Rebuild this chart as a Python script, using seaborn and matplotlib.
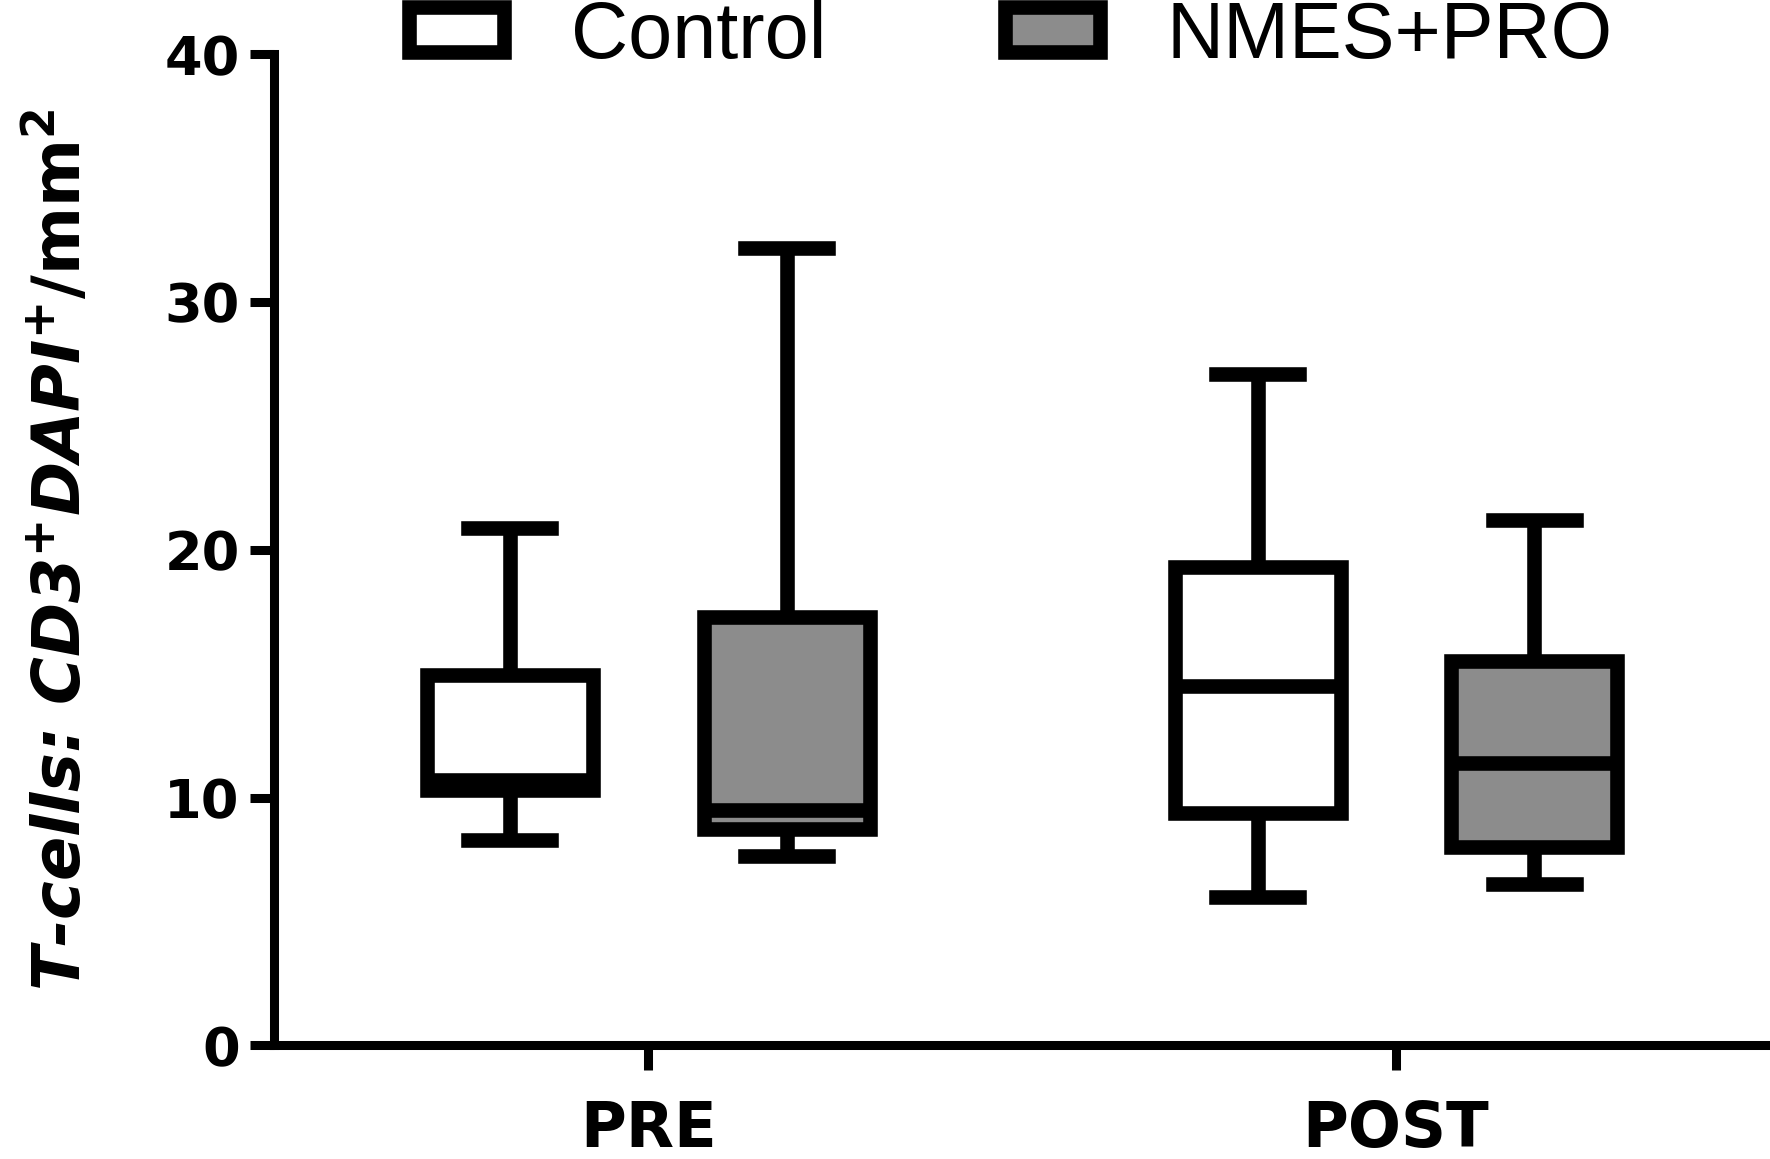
import numpy as np
import pandas as pd
import matplotlib
matplotlib.use("Agg")
import matplotlib.pyplot as plt
import seaborn as sns
from matplotlib.patches import Patch

# data: min, Q1, median, Q3, max (whiskers = min..max)
times = ["PRE", "POST"]
groups = ["Control", "NMES+PRO"]
control_pre = [8.3, 10.3, 10.7, 14.95, 20.9]
nmes_pre = [7.65, 8.75, 9.5, 17.3, 32.2]
control_post = [6.0, 9.4, 14.5, 19.3, 27.1]
nmes_post = [6.5, 8.0, 11.4, 15.5, 21.2]
colors = {"Control": "white", "NMES+PRO": "#8c8c8c"}
y_ticks = [0, 10, 20, 30, 40]

rows = []
for t, g, vals in [("PRE", "Control", control_pre), ("PRE", "NMES+PRO", nmes_pre),
                   ("POST", "Control", control_post), ("POST", "NMES+PRO", nmes_post)]:
    for v in vals:
        rows.append({"time": t, "group": g, "value": v})
df = pd.DataFrame(rows)

sns.set_style("ticks", {"axes.edgecolor": "black", "text.color": "black",
                        "xtick.color": "black", "ytick.color": "black",
                        "axes.labelcolor": "black"})
plt.rcParams["font.family"] = ["Liberation Sans", "DejaVu Sans"]
plt.rcParams["mathtext.fontset"] = "custom"
plt.rcParams["mathtext.rm"] = "DejaVu Sans:bold"
plt.rcParams["mathtext.it"] = "DejaVu Sans:italic:bold"
plt.rcParams["mathtext.bf"] = "DejaVu Sans:bold"

fig = plt.figure(figsize=(17.7, 11.59), dpi=100)
ax = fig.add_axes([0.155, 0.098, 0.845, 0.855])

sns.boxplot(data=df, x="time", y="value", hue="group", order=times, hue_order=groups,
            palette=colors, saturation=1, width=0.74, gap=0.4, whis=(0, 100),
            linewidth=10.5, linecolor="black", legend=False,
            capprops={"solid_capstyle": "projecting"}, ax=ax)

ax.set_ylim(0, 40)
ax.set_xlim(-0.5, 1.5)
ax.set_yticks(y_ticks)
sns.despine(ax=ax)
for s in ["left", "bottom"]:
    ax.spines[s].set_linewidth(6.5)
ax.tick_params(axis="y", length=17, width=6.5, pad=8, labelsize=39)
ax.tick_params(axis="x", length=18, width=6.5, pad=21, labelsize=45)
for lbl in ax.get_yticklabels() + ax.get_xticklabels():
    lbl.set_fontweight("bold")
    lbl.set_family("DejaVu Sans")

ax.set_xlabel("")
ax.set_ylabel("T-cells: CD3$^{+}$DAPI$^{+}$$\\mathrm{/mm}^{2}$",
              fontsize=47, fontweight="bold", fontstyle="italic", family="DejaVu Sans")
ax.yaxis.set_label_coords(-0.12, 0.5)

handles = [Patch(facecolor=colors[g], edgecolor="black", linewidth=10.5) for g in groups]
fig.legend(handles, groups, loc="center left", bbox_to_anchor=(0.231, 0.968), ncol=2,
           frameon=False, handlelength=1.2, handleheight=0.5, handletextpad=0.85,
           columnspacing=2.25, borderaxespad=0, borderpad=0,
           prop={"family": "Liberation Sans", "size": 57})

fig.savefig("out.png", dpi=100)
